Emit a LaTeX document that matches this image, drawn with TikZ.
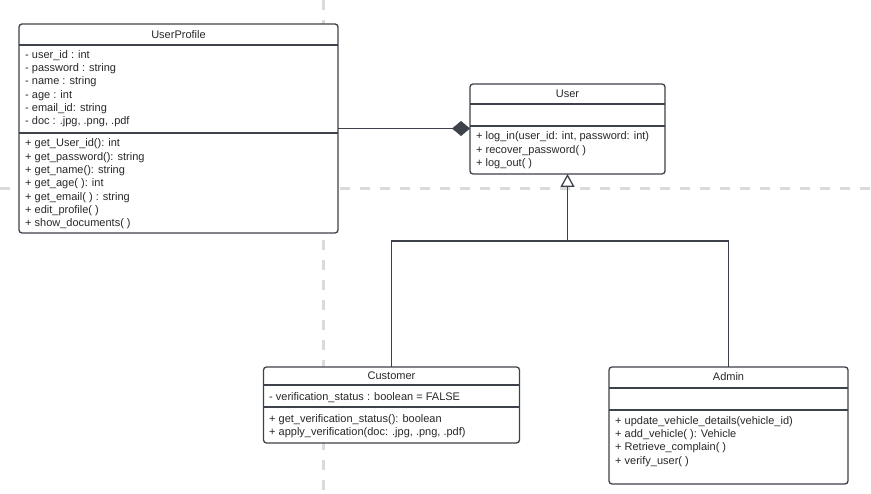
\documentclass[tikz,border=0pt]{standalone}
\usepackage{fontspec}
\setmainfont{Liberation Sans}
\usetikzlibrary{arrows.meta}
\definecolor{lncol}{RGB}{62,66,75}
\definecolor{txtcol}{RGB}{40,40,40}
\definecolor{guidecol}{RGB}{218,218,218}
\tikzset{
  guide/.style={draw=guidecol, line width=3pt, dash pattern=on 10pt off 10pt},
  ln/.style={draw=lncol, line width=1.3pt},
  cls/.style={draw=lncol, line width=1.3pt, fill=white, rounded corners=3pt, inner sep=0pt, outer sep=0pt, anchor=north west},
  txt/.style={text=txtcol, font=\fontsize{11}{13}\selectfont, inner sep=0pt},
  row/.style={txt, anchor=west, yshift=-1.5pt},
}
\begin{document}
\begin{tikzpicture}[x=1pt,y=-1pt]
\useasboundingbox (0,0) rectangle (871,494);
\fill[white] (0,0) rectangle (871,494);
\draw[guide] (0,189) -- (871,189);
\draw[guide] (323,0) -- (323,494);

% UserProfile
\node[cls, minimum width=319pt, minimum height=209pt] (up) at (19,24) {};
\draw[ln] (up.west |- 0,45) -- (up.east |- 0,45);
\draw[ln] (up.west |- 0,133) -- (up.east |- 0,133);
\node[txt] (upt) at (178.5,34.5) {UserProfile};
\node[row] (upa1) at (25,54) {- user\_id : int};
\node[row] (upa2) at (25,67.3) {- password : string};
\node[row] (upa3) at (25,80.6) {- name : string};
\node[row] (upa4) at (25,93.9) {- age : int};
\node[row] (upa5) at (25,107.2) {- email\_id: string};
\node[row] (upa6) at (25,120.5) {- doc : .jpg, .png, .pdf};
\node[row] (upm1) at (25,142.5) {+ get\_User\_id(): int};
\node[row] (upm2) at (25,155.8) {+ get\_password(): string};
\node[row] (upm3) at (25,169.1) {+ get\_name(): string};
\node[row] (upm4) at (25,182.4) {+ get\_age( ): int};
\node[row] (upm5) at (25,195.7) {+ get\_email( ) : string};
\node[row] (upm6) at (25,209) {+ edit\_profile( )};
\node[row] (upm7) at (25,222.3) {+ show\_documents( )};

% User
\node[cls, minimum width=195pt, minimum height=90pt] (u) at (470,84) {};
\draw[ln] (u.west |- 0,104) -- (u.east |- 0,104);
\draw[ln] (u.west |- 0,126) -- (u.east |- 0,126);
\node[txt] (ut) at (567.5,93.5) {User};
\node[row] (um1) at (476,135.5) {+ log\_in(user\_id: int, password: int)};
\node[row] (um2) at (476,148.8) {+ recover\_password( )};
\node[row] (um3) at (476,162.1) {+ log\_out( )};

% Customer
\node[cls, minimum width=256pt, minimum height=76pt] (cu) at (263.5,367) {};
\draw[ln] (cu.west |- 0,385) -- (cu.east |- 0,385);
\draw[ln] (cu.west |- 0,407) -- (cu.east |- 0,407);
\node[txt] (cut) at (391.5,376) {Customer};
\node[row] (cua1) at (269,396.5) {- verification\_status : boolean = FALSE};
\node[row] (cum1) at (269,418) {+ get\_verification\_status(): boolean};
\node[row] (cum2) at (269,431.3) {+ apply\_verification(doc: .jpg, .png, .pdf)};

% Admin
\node[cls, minimum width=239pt, minimum height=117pt] (ad) at (609,367) {};
\draw[ln] (ad.west |- 0,388) -- (ad.east |- 0,388);
\draw[ln] (ad.west |- 0,410) -- (ad.east |- 0,410);
\node[txt] (adt) at (728.5,377) {Admin};
\node[row] (adm1) at (615,420) {+ update\_vehicle\_details(vehicle\_id)};
\node[row] (adm2) at (615,433.3) {+ add\_vehicle( ): Vehicle};
\node[row] (adm3) at (615,446.6) {+ Retrieve\_complain( )};
\node[row] (adm4) at (615,459.9) {+ verify\_user( )};

% Composition
\draw[ln, -{Diamond[length=18pt,width=15pt,fill=lncol]}] (up.east) -- (up.east -| u.west);

% Generalization
\coordinate (j) at (u.south |- 0,241);
\draw[ln] (cu.north) |- (ad.north |- j) -- (ad.north);
\draw[ln, -{Triangle[open,length=13pt,width=14pt,fill=white]}] (j) -- (u.south);
\end{tikzpicture}
\end{document}
